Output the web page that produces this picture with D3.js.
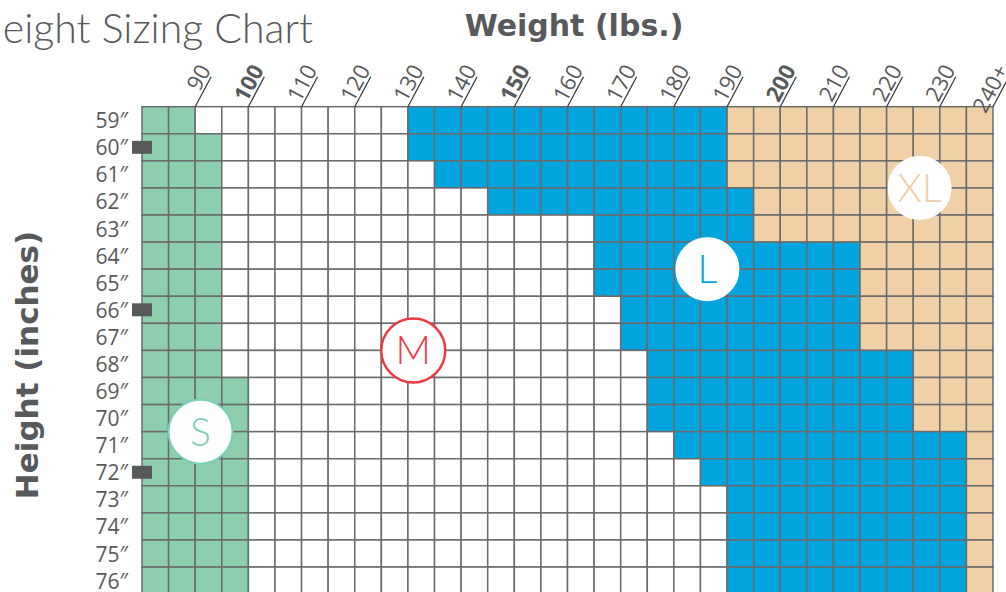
<!DOCTYPE html>
<html>
<head>
<meta charset="utf-8">
<title>Height Sizing Chart</title>
<script src="https://cdn.jsdelivr.net/npm/d3@7"></script>
<style>
    body { margin: 0; background: #fff; }
    svg { display: block; }
    .title { font-family: Lato, "Open Sans", sans-serif; fill: #58595b; }
    .axis-title { font-family: "DejaVu Sans", sans-serif; font-weight: 700; fill: #58595b; }
    .row-label { font-family: "Open Sans", sans-serif; font-size: 21px; fill: #58595b; }
    .tick-label { font-family: "Open Sans", sans-serif; font-size: 22px; fill: #58595b; }
    .badge { font-family: Lato, "Open Sans", sans-serif; font-weight: 300; }
</style>
</head>
<body>
<svg id="chart" width="1006" height="592"></svg>
<script>
/*globals d3*/

// rows of the chart, inches
var heights = [59, 60, 61, 62, 63, 64, 65, 66, 67, 68, 69, 70, 71, 72, 73, 74, 75, 76];
// upper weight (lbs) of each size band, one per height row
var smallMax = [90, 95, 95, 95, 95, 95, 95, 95, 95, 95, 100, 100, 100, 100, 100, 100, 100, 100];
var mediumMax = [130, 130, 135, 145, 165, 165, 165, 170, 170, 175, 175, 175, 180, 185, 190, 190, 190, 190];
var largeMax = [190, 190, 190, 195, 195, 215, 215, 215, 215, 225, 225, 225, 235, 235, 235, 235, 235, 235];
var weightMin = 80;
var weightMax = 240;
var weightStep = 5;

var tickValues = [90, 100, 110, 120, 130, 140, 150, 160, 170, 180, 190, 200, 210, 220, 230, 240];
var tickLabels = ["90", "100", "110", "120", "130", "140", "150", "160", "170", "180", "190", "200", "210", "220", "230", "240+"];
var boldTicks = [100, 150, 200];
var markedHeights = [60, 66, 72];

var sizes = ["S", "M", "L", "XL"];
var badgeWeight = [91, 131, 186.3, 226.2];
var badgeHeight = [70.5, 67.5, 64.5, 61.5];

(function () {
    "use strict";

    var svg = d3.select("#chart"),
        colors = {S: "#8dceae", M: "#ffffff", L: "#00a5e0", XL: "#f0d0a6"},
        ink = {S: "#7dcfbb", M: "#ee3a43", L: "#00a5e0", XL: "#f0d0a6"},
        x,
        y,
        yCenter,
        cells = [],
        grid,
        ticks,
        badges;

    function sizeFor(row, w) {
        if (w < smallMax[row]) {
            return "S";
        }
        if (w < mediumMax[row]) {
            return "M";
        }
        if (w < largeMax[row]) {
            return "L";
        }
        return "XL";
    }

    x = d3.scaleLinear().domain([weightMin, weightMax]).range([142, 993]);
    y = d3.scaleBand().domain(heights).range([106.7, 106.7 + heights.length * 27.08]);
    yCenter = d3.scaleLinear()
        .domain([heights[0], heights[heights.length - 1]])
        .range([y(heights[0]) + y.bandwidth() / 2, y(heights[heights.length - 1]) + y.bandwidth() / 2]);

    heights.forEach(function (h, row) {
        d3.range(weightMin, weightMax, weightStep).forEach(function (w) {
            cells.push({h: h, w: w, size: sizeFor(row, w)});
        });
    });

    // titles (the main title runs off the left edge, as in the source)
    svg.append("text")
        .attr("class", "title")
        .attr("x", 313)
        .attr("y", 43)
        .attr("text-anchor", "end")
        .style("font-size", "41px")
        .style("font-weight", 300)
        .text("Height Sizing Chart");

    svg.append("text")
        .attr("class", "axis-title")
        .attr("x", 574)
        .attr("y", 36)
        .attr("text-anchor", "middle")
        .style("font-size", "30px")
        .text("Weight (lbs.)");

    svg.append("text")
        .attr("class", "axis-title")
        .attr("transform", "translate(38,365) rotate(-90)")
        .attr("text-anchor", "middle")
        .style("font-size", "31px")
        .text("Height (inches)");

    // grid of cells
    grid = svg.append("g").attr("class", "grid");
    grid.selectAll("rect")
        .data(cells)
        .enter().append("rect")
        .attr("x", function (d) { return x(d.w); })
        .attr("y", function (d) { return y(d.h); })
        .attr("width", function (d) { return x(d.w + weightStep) - x(d.w); })
        .attr("height", y.bandwidth())
        .attr("fill", function (d) { return colors[d.size]; })
        .attr("stroke", "#6b6b6b")
        .attr("stroke-width", 1.5);

    // height labels
    svg.append("g").selectAll("text")
        .data(heights)
        .enter().append("text")
        .attr("class", "row-label")
        .attr("x", 128)
        .attr("y", function (d) { return y(d) + y.bandwidth() / 2 + 8; })
        .attr("text-anchor", "end")
        .text(function (d) { return d + "\u2033"; });

    svg.append("g").selectAll("rect")
        .data(markedHeights)
        .enter().append("rect")
        .attr("x", 132)
        .attr("y", function (d) { return y(d) + y.bandwidth() / 2 - 6.5; })
        .attr("width", 20)
        .attr("height", 13)
        .attr("fill", "#58595b");

    // slanted weight ticks
    ticks = svg.append("g").selectAll("g")
        .data(tickValues)
        .enter().append("g")
        .attr("transform", function (d) { return "translate(" + x(d) + "," + y.range()[0] + ") rotate(-62)"; });
    ticks.append("line")
        .attr("x1", 0)
        .attr("x2", 34)
        .attr("stroke", "#333")
        .attr("stroke-width", 1.2);
    ticks.append("text")
        .attr("class", "tick-label")
        .attr("x", 40)
        .attr("y", -3)
        .attr("text-anchor", "end")
        .style("font-weight", function (d) { return boldTicks.indexOf(d) >= 0 ? 700 : 400; })
        .text(function (d, i) { return tickLabels[i]; });

    // size badges
    badges = svg.append("g").selectAll("g")
        .data(sizes)
        .enter().append("g")
        .attr("transform", function (d, i) {
            return "translate(" + x(badgeWeight[i]) + "," + yCenter(badgeHeight[i]) + ")";
        });
    badges.append("circle")
        .attr("r", function (d) { return d === "S" || d === "M" ? 32 : 31; })
        .attr("fill", "#fff")
        .attr("stroke", function (d) { return d === "S" || d === "M" ? ink[d] : "#fff"; })
        .attr("stroke-width", function (d) { return d === "M" ? 2.5 : 2; });
    badges.append("text")
        .attr("class", "badge")
        .attr("text-anchor", "middle")
        .attr("y", 14)
        .style("font-size", "39px")
        .attr("fill", function (d) { return ink[d]; })
        .text(function (d) { return d; });
}());
</script>
</body>
</html>
